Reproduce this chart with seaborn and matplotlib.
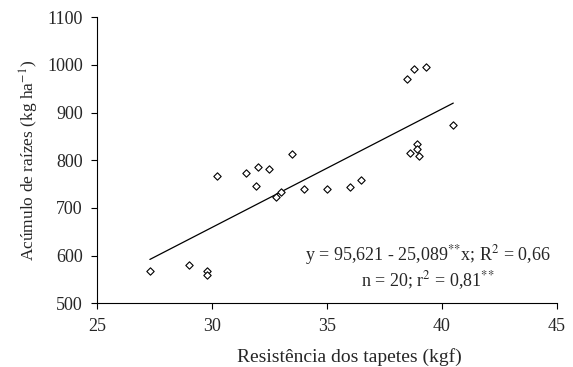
import matplotlib
matplotlib.use("Agg")
import matplotlib.pyplot as plt
import seaborn as sns
import pandas as pd

# dados
resistencia = [27.3, 29.0, 29.8, 29.8, 30.2, 31.5, 31.9, 32.0, 32.5, 32.8,
               33.0, 33.5, 34.0, 35.0, 36.0, 36.5, 38.5, 38.8, 39.3, 40.5,
               38.6, 38.9, 38.9, 39.0]
acumulo = [567, 580, 568, 560, 768, 773, 746, 786, 782, 723,
           733, 813, 740, 740, 745, 759, 970, 991, 995, 875,
           815, 834, 823, 810]

# reta ajustada (extremos)
reta_x = [27.3, 40.5]
reta_y = [592, 920]

df = pd.DataFrame({"x": resistencia, "y": acumulo})
df_reta = pd.DataFrame({"x": reta_x, "y": reta_y})

sns.set_style("ticks")
plt.rcParams["font.family"] = ["Liberation Serif", "DejaVu Serif"]
plt.rcParams["mathtext.fontset"] = "stix"

fig = plt.figure(figsize=(5.73, 3.67), dpi=100)
ax = fig.add_axes([0.1693, 0.1736, 0.8023, 0.7793])

sns.lineplot(data=df_reta, x="x", y="y", color="black", linewidth=0.9, ax=ax)
sns.scatterplot(data=df, x="x", y="y", marker="D", s=14, facecolor="white",
                edgecolor="black", linewidth=0.8, ax=ax, zorder=3)

ax.set_xlim(25, 45)
ax.set_ylim(500, 1100)
ax.set_xticks([25, 30, 35, 40, 45])
ax.set_yticks(range(500, 1101, 100))
ax.tick_params(labelsize=13, length=4.3, width=0.8, color="black", pad=6)
for s in ["left", "bottom"]:
    ax.spines[s].set_linewidth(0.8)
    ax.spines[s].set_color("black")
sns.despine(ax=ax)

ax.set_xlabel("Resistência dos tapetes (kgf)", fontsize=14, va="center")
ax.xaxis.set_label_coords(0.548, -0.188)
ax.set_ylabel("Acúmulo de raízes (kg ha$^{-1}$)", fontsize=12.5, va="center")
ax.yaxis.set_label_coords(-0.146, 0.5)

ax.text(0.72, 0.169, "y = 95,621 - 25,089$^{{*}{*}}$x; R$^2$ = 0,66", transform=ax.transAxes,
        ha="center", va="center", fontsize=13)
ax.text(0.719, 0.081, "n = 20; r$^2$ = 0,81$^{{*}{*}}$", transform=ax.transAxes,
        ha="center", va="center", fontsize=13)

fig.savefig("out.png", dpi=100)
